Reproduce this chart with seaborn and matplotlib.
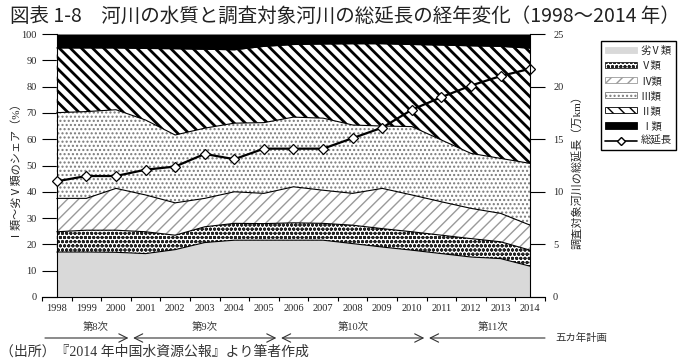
import numpy as np
import pandas as pd
import matplotlib
matplotlib.use("Agg")
import matplotlib.pyplot as plt
import matplotlib.transforms as mtransforms
from matplotlib.patches import Patch
from matplotlib.lines import Line2D
import seaborn as sns

# ------------------------------------------------------------
# データ
# ------------------------------------------------------------
years = list(range(1998, 2015))

# 各水質区分のシェア（%）
share_worse5 = [17.1, 17.1, 17.0, 16.5, 18.0, 20.7, 21.6, 21.6, 21.6, 21.6, 20.3, 19.0, 17.8, 16.5, 15.2, 14.6, 11.7]
share_5 = [7.7, 8.3, 8.4, 8.3, 5.5, 6.0, 6.4, 6.3, 6.6, 6.4, 7.0, 7.0, 7.0, 7.0, 7.0, 6.4, 6.1]
share_4 = [12.7, 12.1, 15.9, 14.0, 12.3, 10.8, 12.0, 11.5, 13.7, 12.6, 12.1, 15.3, 14.0, 12.7, 11.5, 10.8, 9.5]
share_3 = [32.6, 33.0, 29.9, 28.5, 25.8, 26.7, 26.1, 26.9, 26.5, 27.4, 26.0, 23.7, 26.0, 23.5, 20.9, 20.9, 23.5]
share_2 = [24.6, 24.2, 23.5, 27.2, 32.8, 30.0, 27.9, 29.0, 27.6, 28.2, 30.9, 31.3, 31.2, 36.1, 40.9, 42.6, 43.8]
share_1 = [5.3, 5.3, 5.3, 5.5, 5.6, 5.8, 6.0, 4.7, 4.0, 3.8, 3.7, 3.7, 4.0, 4.2, 4.5, 4.7, 5.4]

# 調査対象河川の総延長（万km）
total_length = [11.0, 11.5, 11.5, 12.1, 12.4, 13.6, 13.1, 14.1, 14.1, 14.1, 15.1, 16.1, 17.8, 19.0, 20.1, 21.0, 21.7]

# 五カ年計画
plan_labels = ["第8次", "第9次", "第10次", "第11次"]
plan_bounds = [1997.6, 2000.5, 2005.5, 2010.5, 2014.5]

title = "図表 1-8　河川の水質と調査対象河川の総延長の経年変化（1998～2014 年）"
source = "（出所）『2014 年中国水資源公報』より筆者作成"

sns.set_theme(style="white")
plt.rcParams["font.family"] = ["Liberation Serif", "Noto Sans CJK JP"]
plt.rcParams["hatch.linewidth"] = 1.0

# (ラベル, 値, 塗り色, ハッチ, ハッチ色, ハッチ線幅)
layers = [
    ("劣Ⅴ類", share_worse5, "#d9d9d9", None, "#d9d9d9", 1.0),
    ("Ⅴ類", share_5, "white", "oooo", "#222222", 1.0),
    ("Ⅳ類", share_4, "white", "///", "#9a9a9a", 1.0),
    ("Ⅲ類", share_3, "white", "....", "#7a7a7a", 1.0),
    ("Ⅱ類", share_2, "white", "\\\\\\", "black", 2.0),
    ("Ⅰ類", share_1, "black", None, "black", 1.0),
]

fig = plt.figure(figsize=(6.8, 3.6), dpi=100)
ax = fig.add_axes([42 / 680, 63 / 360, 503 / 680, 263 / 360])

x = np.array(years)
base = np.zeros(len(years))
handles = []
for label, vals, fc, hatch, hc, hlw in layers:
    top = base + np.array(vals)
    with plt.rc_context({"hatch.linewidth": hlw}):
        ax.fill_between(x, base, top, facecolor=fc, hatch=hatch, edgecolor=hc, linewidth=0)
        handles.append(Patch(facecolor=fc, hatch=hatch, edgecolor=hc, linewidth=0.6))
    if label != "Ⅰ類":
        ax.plot(x, top, color="black", lw=0.8)
    base = top

ax.set_xlim(1997.5, 2014.5)
ax.set_ylim(0, 100)
ax.set_yticks(range(0, 101, 10))
ax.set_xticks(years)
ax.set_xticks(np.arange(1997.5, 2015, 1), minor=True)
for s in ["top", "right"]:
    ax.spines[s].set_visible(False)
ax.spines["left"].set_position(("data", 1998))
ax.spines["left"].set_color("black")
ax.spines["bottom"].set_color("black")
ax.spines["left"].set_linewidth(0.8)
ax.spines["bottom"].set_linewidth(0.8)
ax.tick_params(axis="y", which="major", left=True, direction="out", length=10.5,
               width=0.8, color="black", labelsize=7.5, pad=4)
ax.tick_params(axis="x", which="major", bottom=True, length=0, labelsize=7.5, pad=5)
ax.tick_params(axis="x", which="minor", bottom=True, direction="out", length=3,
               width=0.8, color="black")

# 総延長（右軸）
ax2 = ax.twinx()
df_len = pd.DataFrame({"year": years, "length": total_length})
sns.lineplot(data=df_len, x="year", y="length", ax=ax2, color="black", lw=1.6,
             marker="D", markersize=5, markerfacecolor="white",
             markeredgecolor="black", markeredgewidth=0.9)
ax2.set_ylim(0, 25)
ax2.set_yticks(range(0, 26, 5))
ax2.set_xlabel("")
ax2.set_ylabel("")
for s in ["top", "left", "bottom"]:
    ax2.spines[s].set_visible(False)
ax2.spines["right"].set_position(("data", 2014))
ax2.spines["right"].set_color("black")
ax2.spines["right"].set_linewidth(0.8)
ax2.tick_params(axis="y", right=True, direction="out", length=10.5, width=0.8,
                color="black", labelsize=7.5, pad=6)

fig.text(12 / 680, 1 - 165 / 360, "Ⅰ類～劣Ⅴ類のシェア（%）", rotation=90,
         ha="center", va="center", fontsize=8)
fig.text(578 / 680, 1 - 170 / 360, "調査対象河川の総延長（万km）", rotation=90,
         ha="center", va="center", fontsize=8)

handles.append(Line2D([0], [0], color="black", lw=1.2, marker="D", markersize=4,
                      markerfacecolor="white", markeredgecolor="black"))
labels = [l[0] for l in layers] + ["総延長"]
fig.legend(handles, labels,
           loc="upper left", bbox_to_anchor=(596 / 680, 1 - 36 / 360),
           frameon=True, fancybox=False, edgecolor="black", fontsize=7.5,
           handlelength=3.0, handleheight=0.6, labelspacing=0.5,
           borderpad=0.4, handletextpad=0.4, framealpha=1)

# 五カ年計画の矢印
trans = mtransforms.blended_transform_factory(ax.transData, fig.transFigure)
arrow_y = 1 - 338 / 360
text_y = 1 - 327 / 360
text_x = [1999.3, 2003.0, 2008.0, 2012.75]
for i, lab in enumerate(plan_labels):
    x0 = plan_bounds[i] + (0.08 if i > 0 else 0)
    x1 = plan_bounds[i + 1] - (0.08 if i < len(plan_labels) - 1 else 0)
    if i == 0:
        style = "->"
    elif i == len(plan_labels) - 1:
        style = "<-"
    else:
        style = "<->"
    ax.annotate("", xy=(x1, arrow_y), xytext=(x0, arrow_y), xycoords=trans,
                textcoords=trans, annotation_clip=False,
                arrowprops=dict(arrowstyle=style + ",head_length=0.5,head_width=0.25",
                                color="#333333", lw=0.8, shrinkA=0, shrinkB=0))
    ax.text(text_x[i], text_y, lab, transform=trans, ha="center", va="center",
            fontsize=7.5, color="#333333")
fig.text(555 / 680, arrow_y, "五カ年計画", ha="left", va="center", fontsize=7.5,
         color="#333333")

fig.text(10 / 680, 1 - 16 / 360, title, ha="left", va="center", fontsize=14,
         family=["Noto Sans CJK JP"], color="#222222")
fig.text(0, 1 / 360, source, ha="left", va="bottom", fontsize=10,
         color="#333333")

fig.savefig("out.png", dpi=100)
